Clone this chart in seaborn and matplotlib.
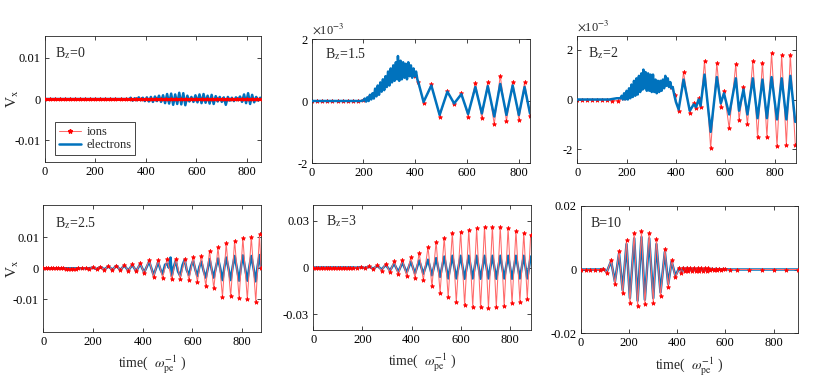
import numpy as np
import matplotlib
matplotlib.use("Agg")
import matplotlib.pyplot as plt
from matplotlib.lines import Line2D
import seaborn as sns

# ---------------- data ----------------
# Panel 1 : Bz = 0   (values in units of 1e-3)
bz0_ion_t = [0, 20, 40, 60, 80, 100, 120, 140, 160, 180, 200, 220, 240, 260, 280, 300, 320, 340,
             360, 380, 400, 420, 440, 460, 480, 500, 520, 540, 560, 580, 600, 620, 640, 660, 680,
             700, 720, 740, 760, 780, 800, 820, 840, 860]
bz0_ion_v = [0, 0, 0, 0, 0, 0, 0, 0, 0, 0, 0, 0, 0, 0, 0, 0, 0, 0, 0, 0, 0, 0,
             0, 0, 0, 0, 0, 0, 0, 0, 0, 0, 0, 0, 0, 0, 0, 0, 0, 0, 0, 0, 0, 0]
bz0_ele_t = [0, 335, 340, 348, 356, 364, 372, 380, 388, 396, 404, 412, 420, 428, 436, 444, 452,
             460, 468, 476, 484, 492, 500, 508, 516, 524, 532, 540, 548, 556, 564, 572, 580, 588,
             596, 604, 612, 620, 628, 636, 644, 652, 660, 668, 676, 684, 692, 700, 708, 716, 724,
             732, 740, 748, 756, 764, 772, 780, 788, 796, 804, 812, 820, 828, 836, 844, 852, 860]
bz0_ele_v = [0, 0,
             0.3, -0.4, 0.2, -0.3, 0.4, -0.3, 0.3, -0.5, 0.4, -0.6,
             0.5, -0.7, 0.6, -0.5, 0.8, -0.7, 0.9, -1.0, 1.2, -1.1,
             1.3, -1.4, 1.1, -1.2, 1.5, -1.3, 1.4, -1.5, 0.8, -0.6,
             0.5, -0.7, 0.9, -0.8, 1.1, -1.0, 1.2, -0.9, 0.8, -1.1,
             1.0, -1.2, 0.7, -0.6, 0.5, -0.7, 0.4, -1.4, 0.5, -0.4,
             0.3, -0.5, 0.4, -0.3, 0.6, -0.7, 1.1, -1.0, 1.4, -1.2,
             1.0, -0.8, 0.5, -0.4, 0.3, -0.2]

# Panel 2 : Bz = 1.5  (units of 1e-3)
bz15_ion_t = [0, 20, 40, 60, 80, 100, 120, 140, 160, 180, 200, 225, 250, 275, 300, 325, 350, 375,
              400, 410, 432, 462, 494, 524, 550, 578, 604, 632, 657, 680, 705, 728, 752, 776, 800,
              822, 843]
bz15_ion_v = [0, 0, 0, 0, 0, 0, 0, 0, 0, 0, 0.02, 0.15, 0.35, 0.55, 0.75, 0.9, 1.0, 0.95, 0.8,
              0.62, -0.05, 0.55, -0.5, 0.33, -0.1, 0.26, -0.5, 0.58, -0.55, 0.6, -0.75, 0.82,
              -0.65, 0.62, -0.6, 0.6, -0.48]
bz15_ele_t = [0, 190, 200, 205, 210, 215, 220, 225, 230, 235, 240, 245, 250, 255, 260, 265, 270,
              275, 280, 285, 290, 295, 300, 305, 310, 315, 320, 325, 330, 333, 338, 343, 348, 353,
              358, 363, 368, 373, 378, 383, 388, 393, 398, 403, 408, 412, 432, 462, 494, 524, 550,
              578, 604, 632, 657, 680, 705, 728, 752, 776, 800, 822, 843]
bz15_ele_v = [0, 0,
              0.02, 0.08, -0.02, 0.12, 0.0, 0.2, 0.05, 0.25, 0.08, 0.4,
              0.15, 0.5, 0.2, 0.6, 0.3, 0.7, 0.35, 0.8, 0.45, 0.95,
              0.5, 1.05, 0.6, 1.15, 0.65, 1.25, 0.7,
              1.45, 0.65, 1.3, 0.7, 1.25, 0.75, 1.2, 0.7, 1.25, 0.8, 1.15, 0.75, 1.05, 0.8, 0.95, 0.7,
              0.6,
              -0.03, 0.5, -0.45, 0.3, -0.08, 0.22, -0.42, 0.45, -0.4, 0.48, -0.5, 0.55, -0.45,
              0.5, -0.45, 0.45, -0.4]

# Panel 3 : Bz = 2  (units of 1e-3)
bz2_ion_t = [0, 20, 40, 60, 80, 100, 120, 140, 165, 185, 200, 225, 250, 275, 300, 325, 350, 380,
             395, 411, 431, 456, 472, 482, 492, 500, 516, 541, 566, 582, 595, 616, 643, 656, 674,
             690, 712, 731, 751, 769, 788, 810, 829, 848, 864, 884]
bz2_ion_v = [0, 0, 0, 0, 0, 0, 0, -0.05, -0.05, 0.05, 0.1, 0.3, 0.5, 0.65, 0.7, 0.65, 0.7, 0.5,
             0.2, -0.45, 1.10, -0.55, -0.15, -0.35, 0.05, -0.30, 1.55, -1.95, 1.47, -0.30, 0.35,
             -1.15, 1.43, -0.83, 0.50, -1.00, 1.55, -1.50, 1.47, -1.50, 1.87, -1.88, 1.78, -1.82,
             1.80, -1.82]
bz2_ele_t = [0, 130, 160, 170,
             175, 180, 185, 190, 195, 200, 205, 210, 215, 220, 225, 230, 235, 240, 245, 250, 255,
             260, 265,
             268, 272, 277, 282, 287, 292, 297, 302, 307, 312, 317, 322, 327, 332, 337, 342, 347,
             352, 357, 362, 367, 372, 377, 382, 387,
             393, 400, 411,
             431, 456, 472, 482, 492, 500, 516, 541, 566, 582, 595, 616, 643, 656, 674, 690, 712,
             731, 751, 769, 788, 810, 829, 848, 864, 884]
bz2_ele_v = [0, 0, 0.05, 0.05,
             0.05, 0.15, 0.0, 0.25, 0.0, 0.35, 0.0, 0.45, 0.05, 0.6, 0.1, 0.75, 0.15, 0.85, 0.2,
             0.95, 0.3, 1.05, 0.4,
             1.2, 0.45, 1.1, 0.35, 1.05, 0.35, 1.0, 0.3, 1.0, 0.3, 0.8, 0.25, 0.75, 0.3, 0.75,
             0.35, 0.8, 0.45, 0.95, 0.55, 0.85, 0.5, 0.7, 0.45, 0.5,
             0.2, -0.1, -0.4,
             0.80, -0.45, -0.20, -0.30, 0.0, -0.25, 1.00, -1.30, 0.90, -0.15, 0.25, -0.60, 0.85,
             -0.45, 0.40, -0.60, 0.85, -0.75, 0.80, -0.75, 0.90, -0.80, 0.85, -0.80, 0.95, -0.90]

# Panel 4 : Bz = 2.5  (units of 1e-3)
bz25_ion_t = [0, 10, 20, 30, 40, 50, 60, 70, 80, 90, 100, 110, 120, 130, 140, 155, 170, 185,
              200, 215, 230, 246, 262, 278, 294,
              310, 326, 342, 358, 374, 390, 406, 426, 444, 462, 480, 498, 517, 533, 551, 569, 586,
              603, 620, 636, 654, 669, 686, 703, 721, 736, 754, 770, 788, 803, 821, 837, 855, 870,
              876]
bz25_ion_v = [0, 0, 0, 0, 0, 0, 0, 0, 0, -0.05, -0.1, -0.1, -0.1, -0.05, 0, 0.0, 0.2, -0.1,
              0.3, -0.2, 0.5, -0.4, 0.7, -0.5, 0.9,
              -0.6, 1.1, -0.8, 1.3, -1.0, 1.7, -1.6, 2.8, -2.8, 2.8, -3.0, 3.0, -3.6, 3.1, -3.3,
              3.0, -3.8, 3.6, -4.3, 4.1, -5.7, 5.7, -6.5, 6.8, -9.2, 8.1, -9.0, 9.0, -9.7, 9.8,
              -10.0, 10.2, -10.8, 11.0, 0.1]
bz25_ele_t = [0, 20, 40, 60, 80, 100, 120, 140, 160, 180,
              200, 215, 230, 246, 262, 278, 294, 310, 326, 342, 358, 374, 390, 406,
              426, 444, 462, 472, 480, 490, 498, 505, 512, 517,
              525, 533, 542, 551, 560, 569, 577, 586, 595, 603,
              612, 620, 628, 636, 645, 654, 662, 669, 678, 686,
              695, 703, 712, 721, 729, 736, 745, 754, 762, 770,
              779, 788, 796, 803, 812, 821, 829, 837, 846, 855,
              862, 870, 876]
bz25_ele_v = [0, 0, 0, 0, 0, 0, 0, 0, 0, 0,
              0.2, -0.2, 0.4, -0.3, 0.6, -0.4, 0.8, -0.5, 0.9, -0.7, 1.1, -0.9, 1.4, -1.3,
              2.2, -2.2, 2.0, -0.5, -1.8, 1.2, 1.5, 0.2, 3.5, -2.5,
              0.5, 2.5, -1.0, -2.5, 1.0, 2.8, -0.5, -2.2, 0.8, 2.5,
              -0.5, -2.5, 0.5, 2.2, -0.8, -3.0, 0.0, 3.0, -0.5, -3.0,
              0.5, 3.2, 0.0, -3.8, 0.5, 3.5, 0.0, -3.8, 0.5, 4.0,
              0.0, -4.0, 0.8, 4.2, 0.0, -4.0, 0.5, 4.0, 0.0, -4.2,
              0.5, 4.3, 0.0]

# Panel 5 : Bz = 3  (units of 1e-3)
bz3_t = [0, 10, 20, 30, 40, 50, 60, 70, 80, 90, 100, 110, 120, 130, 140, 150, 160,
         176, 193, 210, 227, 244, 261, 278, 295, 312, 329, 346, 363, 380, 397, 414, 431,
         448, 467, 483, 500, 516, 533, 549, 566, 582, 600,
         616, 633, 649, 665, 681, 697, 713, 729, 745, 761,
         777, 793, 809, 825, 841, 857, 871, 885]
bz3_ion_v = [0, 0, 0, 0, 0, 0, 0, 0, 0, 0, 0, 0, 0, 0, 0, 0, 0,
             -0.2, 0.3, -0.5, 0.8, -1.0, 1.5, -2.0, 2.5, -3.0, 4.0, -4.3, 5.0, -5.2, 6.5, -6.5, 9.0,
             -8.0, 13.0, -12.0, 16.5, -16.0, 19.0, -19.0, 22.0, -22.0, 23.0,
             -24.0, 24.0, -25.0, 25.0, -25.5, 26.0, -26.0, 26.0, -25.5, 26.0,
             -24.5, 25.0, -23.0, 23.5, -22.0, 22.0, -20.0, 21.0]
bz3_ele_v = [0, 0, 0, 0, 0, 0, 0, 0, 0, 0, 0, 0, 0, 0, 0, 0, 0,
             -0.1, 0.2, -0.3, 0.5, -0.7, 1.0, -1.3, 1.7, -2.0, 2.5, -2.8, 3.2, -3.3, 3.8, -3.8, 4.5,
             -4.0, 5.0, -5.0, 6.0, -6.0, 7.0, -7.0, 7.5, -7.0, 7.5,
             -7.2, 7.5, -7.0, 7.5, -7.2, 7.5, -7.0, 7.5, -7.2, 7.5,
             -7.0, 7.5, -7.2, 7.5, -7.0, 7.5, -7.0, 7.0]

# Panel 6 : B = 10  (units of 1e-3)
b10_t = [0, 20, 40, 60, 80,
         94, 108, 126, 142, 159, 174, 190, 204, 222, 236,
         252, 266, 284, 301, 314, 331, 349, 363, 377, 393,
         408, 418, 425, 432, 440, 447, 455, 462, 470, 477,
         485, 492, 500, 507, 515, 522, 530, 537, 545, 552,
         560, 567, 575, 582, 590, 600, 620, 650, 700, 750,
         800, 850, 900]
b10_ion_v = [0, 0, 0, 0, 0,
             0.3, -1.0, 3.0, -4.5, 5.8, -7.5, 9.2, -10.5, 11.5, -11.5,
             12.0, -11.0, 11.5, -10.5, 9.5, -8.5, 6.5, -5.5, 3.0, -2.5,
             0.5, -1.0, 0.6, -0.6, 0.6, -0.5, 0.5, -0.5, 0.5, -0.4,
             0.4, -0.4, 0.4, -0.4, 0.35, -0.35, 0.35, -0.3, 0.3, -0.3,
             0.3, -0.25, 0.25, -0.2, 0.2, 0.1, 0, 0, 0, 0,
             0, 0, 0]
b10_ele_v = [0, 0, 0, 0, 0,
             0.2, -0.8, 2.6, -3.8, 5.0, -6.5, 8.0, -9.0, 9.8, -9.8,
             10.2, -9.5, 9.8, -9.0, 8.0, -7.2, 5.5, -4.6, 2.5, -2.0,
             0.4, -0.8, 0.5, -0.5, 0.5, -0.4, 0.4, -0.4, 0.4, -0.3,
             0.3, -0.3, 0.3, -0.3, 0.3, -0.3, 0.3, -0.25, 0.25, -0.25,
             0.25, -0.2, 0.2, -0.15, 0.15, 0.08, 0, 0, 0, 0,
             0, 0, 0]

panel_titles = [r"B$_{\mathrm{z}}$=0", r"B$_{\mathrm{z}}$=1.5", r"B$_{\mathrm{z}}$=2",
                r"B$_{\mathrm{z}}$=2.5", r"B$_{\mathrm{z}}$=3", "B=10"]
x_ticks = [0, 200, 400, 600, 800]
y_ticks = [[-0.01, 0, 0.01], [-0.002, 0, 0.002], [-0.002, 0, 0.002],
           [-0.01, 0, 0.01], [-0.03, 0, 0.03], [-0.02, 0, 0.02]]
y_tick_labels = [["-0.01", "0", "0.01"], ["-2", "0", "2"], ["-2", "0", "2"],
                 ["-0.01", "0", "0.01"], ["-0.03", "0", "0.03"], ["-0.02", "0", "0.02"]]
legend_labels = ["ions", "electrons"]

# ---------------- style ----------------
sns.set_style("ticks")
plt.rcParams.update({
    "font.family": ["Liberation Serif", "DejaVu Serif"],
    "mathtext.fontset": "stix",
    "axes.unicode_minus": False,
    "axes.edgecolor": "#262626",
    "axes.linewidth": 0.6,
})

RED_LINE = "#ff6a6a"
RED = "#ff0000"
BLUE = "#0072BD"
W, H = 830, 392
fig = plt.figure(figsize=(W / 100, H / 100), dpi=100)

# axes rectangles in pixels: left, top, right, bottom
rects_px = [(44.6, 36, 261, 162), (311.7, 39, 530, 163), (577.3, 36, 795.5, 163),
            (43.3, 205, 261, 331.7), (313.3, 205, 530.7, 330), (580.7, 206, 797.7, 333)]
xlims = [855, 843, 885, 876, 885, 900]
ylims = [0.0152, 0.0020, 0.00255, 0.0205, 0.040, 0.020]
title_px = [(55, 57), (325, 58), (588, 57), (55, 227), (326, 225), (591, 227)]

series = [
    (bz0_ion_t, bz0_ion_v, bz0_ele_t, bz0_ele_v, True),
    (bz15_ion_t, bz15_ion_v, bz15_ele_t, bz15_ele_v, False),
    (bz2_ion_t, bz2_ion_v, bz2_ele_t, bz2_ele_v, False),
    (bz25_ion_t, bz25_ion_v, bz25_ele_t, bz25_ele_v, True),
    (bz3_t, bz3_ion_v, bz3_t, bz3_ele_v, True),
    (b10_t, b10_ion_v, b10_t, b10_ele_v, True),
]

for i, ((l, t, r, b), (ti, vi, te, ve, ion_top)) in enumerate(zip(rects_px, series)):
    ax = fig.add_axes([l / W, 1 - b / H, (r - l) / W, (b - t) / H])
    zi, ze = (3, 2) if ion_top else (2, 3)
    sns.lineplot(x=te, y=np.asarray(ve) * 1e-3, ax=ax, color=BLUE, lw=1.8,
                 estimator=None, sort=False, zorder=ze)
    sns.lineplot(x=ti, y=np.asarray(vi) * 1e-3, ax=ax,
                 color=(RED if i == 0 else RED_LINE),
                 lw=(2.2 if i == 0 else 0.75),
                 marker="*", markersize=3.2, markeredgewidth=0.5,
                 markeredgecolor=RED, markerfacecolor=RED,
                 estimator=None, sort=False, zorder=zi)
    ax.set_xlim(0, xlims[i])
    ax.set_ylim(-ylims[i], ylims[i])
    ax.set_xticks(x_ticks, labels=[str(v) for v in x_ticks])
    ax.set_yticks(y_ticks[i], labels=y_tick_labels[i])
    ax.tick_params(direction="in", length=3, width=0.6, top=True, right=True,
                   labelsize=9, colors="#262626", labelcolor="black", pad=3)
    for s in ax.spines.values():
        s.set_visible(True)
        s.set_linewidth(0.6)
        s.set_color("#262626")
    ax.set_xlabel("")
    ax.set_ylabel("")
    tx, ty = title_px[i]
    ax.text((tx - l) / (r - l), (b - ty) / (b - t), panel_titles[i], transform=ax.transAxes,
            fontsize=10, ha="left", va="baseline")
    if i in (1, 2):
        ax.text(0.0, 1.015, r"$\times$10$^{-3}$", transform=ax.transAxes, fontsize=9,
                ha="left", va="bottom", color="#262626")
    if i in (0, 3):
        ax.set_ylabel(r"V$_{\mathrm{x}}$", fontsize=11)
        ax.yaxis.set_label_coords((21 - l) / (r - l), 0.5)
    if i >= 3:
        ax.set_xlabel(r"time(  $\omega^{-1}_{\mathrm{pe}}$ )", fontsize=10)
        ax.xaxis.set_label_coords(0.5, -0.17)
    if i == 0:
        proxies = [Line2D([], [], color=RED_LINE, lw=0.75, marker="*", markersize=3.2,
                          markeredgecolor=RED, markerfacecolor=RED),
                   Line2D([], [], color=BLUE, lw=1.8)]
        leg = ax.legend(proxies, legend_labels,
                        loc="lower left", bbox_to_anchor=(0.048, 0.055), borderaxespad=0,
                        fontsize=9, handlelength=1.8, handletextpad=0.4, labelspacing=0.1,
                        borderpad=0.3, fancybox=False, framealpha=1, edgecolor="#262626")
        leg.get_frame().set_linewidth(0.6)
    else:
        if ax.get_legend() is not None:
            ax.get_legend().remove()

fig.savefig("out.png", dpi=100)
